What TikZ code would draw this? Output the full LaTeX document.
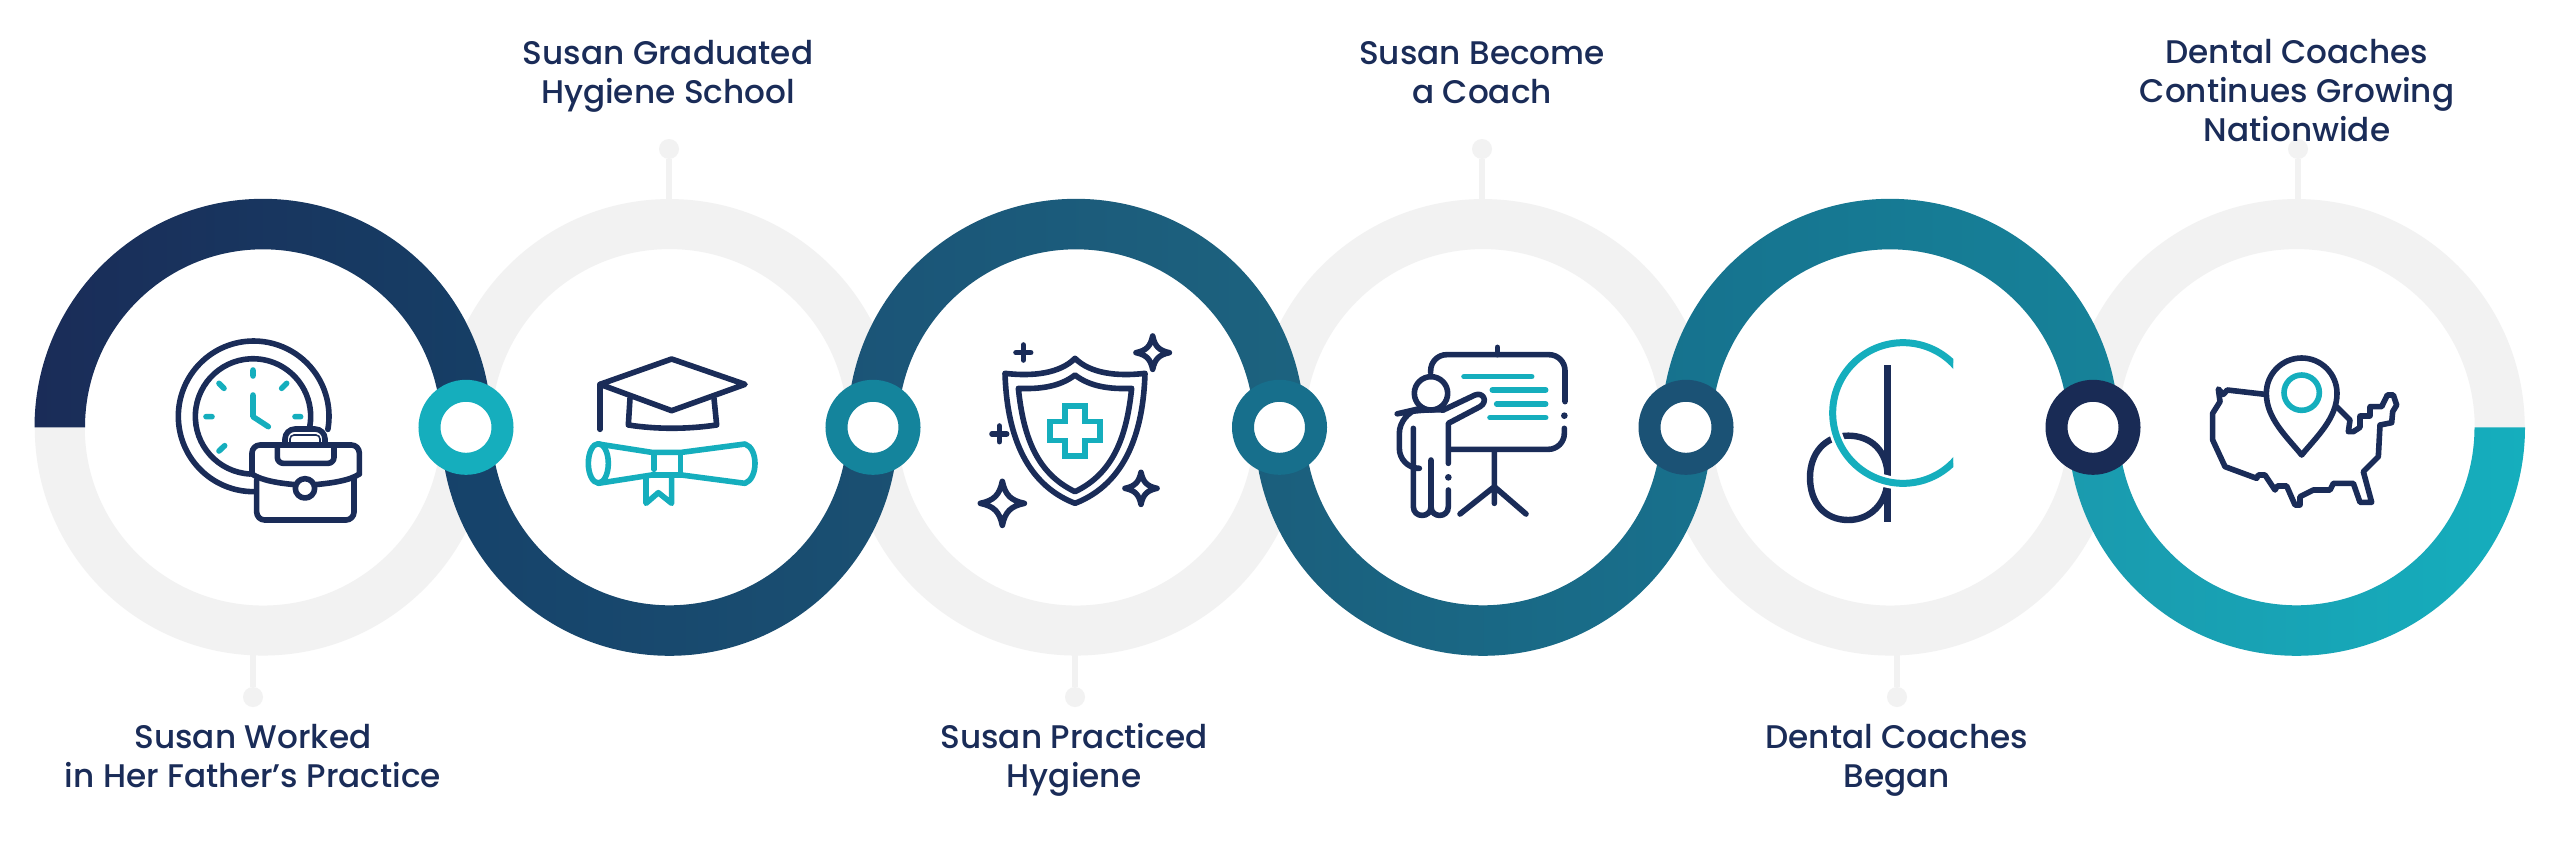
\documentclass[tikz,border=0pt]{standalone}
\usepackage{fontspec}
\setmainfont{Poppins}[UprightFont=* Medium]
\definecolor{navy}{HTML}{1A2C58}
\definecolor{teal}{HTML}{15AEBD}
\definecolor{ringgray}{HTML}{F2F2F2}
\newcommand\ringup[3]{\shade[left color=#2,right color=#3] ({#1-228.5},427.3) arc[start angle=180,end angle=360,radius=228.5] -- ({#1+178},427.3) arc[start angle=360,end angle=180,radius=178] -- cycle;}
\newcommand\ringdown[3]{\shade[left color=#2,right color=#3] ({#1-228.5},427.3) arc[start angle=180,end angle=0,radius=228.5] -- ({#1+178},427.3) arc[start angle=0,end angle=180,radius=178] -- cycle;}
\newcommand\sparkle[3]{\draw[iconline,shift={(#1,#2)},scale=#3] (0,-1) .. controls (.13,-.38) and (.38,-.13) .. (1,0) .. controls (.38,.13) and (.13,.38) .. (0,1) .. controls (-.13,.38) and (-.38,.13) .. (-1,0) .. controls (-.38,-.13) and (-.13,-.38) .. (0,-1) -- cycle;}
\tikzset{
  x=.5pt,y=-.5pt,
  grayring/.style={circle,draw=ringgray,line width=25pt,minimum size=203.25pt,inner sep=0pt,outer sep=0pt},
  joint/.style={circle,line width=11pt,fill=white,minimum size=36.5pt,inner sep=0pt,outer sep=0pt},
  leaderdot/.style={circle,fill=ringgray,minimum size=10pt,inner sep=0pt,outer sep=0pt},
  leader/.style={draw=ringgray,line width=3pt},
  caption/.style={text=navy,align=center,font=\fontsize{16.35}{19.4}\selectfont,inner sep=0pt},
  iconline/.style={draw=navy,line width=2.8pt,line cap=round,line join=round},
  iconteal/.style={draw=teal,line width=2.8pt,line cap=round,line join=round},
  icon/.style={shift={#1},scale=1/3}
}
\begin{document}
\begin{tikzpicture}
\useasboundingbox (0,0) rectangle (2560,841);
\fill[white] (0,0) rectangle (2560,841);
% gray rings
\node[grayring] (c1) at (263,427.3) {};
\node[grayring] (c2) at (669.5,427.3) {};
\node[grayring] (c3) at (1076,427.3) {};
\node[grayring] (c4) at (1483,427.3) {};
\node[grayring] (c5) at (1890,427.3) {};
\node[grayring] (c6) at (2296.5,427.3) {};
% leaders
\node[leaderdot] (d1) at (253,697) {};
\node[leaderdot] (d2) at (669,149) {};
\node[leaderdot] (d3) at (1075,697) {};
\node[leaderdot] (d4) at (1482,149) {};
\node[leaderdot] (d5) at (1897,697) {};
\node[leaderdot] (d6) at (2298,149) {};
\draw[leader] (d1) -- (d1 |- c1.south);
\draw[leader] (d2) -- (d2 |- c2.north);
\draw[leader] (d3) -- (d3 |- c3.south);
\draw[leader] (d4) -- (d4 |- c4.north);
\draw[leader] (d5) -- (d5 |- c5.south);
\draw[leader] (d6) -- (d6 |- c6.north);
% coloured halves
\definecolor{g1}{HTML}{1A2C58}\definecolor{g2}{HTML}{163F66}\definecolor{g3}{HTML}{16426A}\definecolor{g4}{HTML}{1A5072}
\definecolor{g5}{HTML}{1B5477}\definecolor{g6}{HTML}{1C637F}\definecolor{g7}{HTML}{1B5E7C}\definecolor{g8}{HTML}{18718D}
\definecolor{g9}{HTML}{16728E}\definecolor{g10}{HTML}{168299}\definecolor{g11}{HTML}{1A9AAE}
\ringup{263}{g1}{g2}
\ringdown{669.5}{g3}{g4}
\ringup{1076}{g5}{g6}
\ringdown{1483}{g7}{g8}
\ringup{1890}{g9}{g10}
\ringdown{2296.5}{g11}{teal}
% joints
\node[joint,draw={rgb,255:red,21;green,174;blue,189}] (j1) at (466,427.3) {};
\node[joint,draw={rgb,255:red,20;green,132;blue,156}] (j2) at (873,427.3) {};
\node[joint,draw={rgb,255:red,23;green,111;blue,140}] (j3) at (1279.5,427.3) {};
\node[joint,draw={rgb,255:red,27;green,82;blue,117}] (j4) at (1686,427.3) {};
\node[joint,draw={rgb,255:red,25;green,43;blue,85}] (j5) at (2093,427.3) {};
% clock + briefcase
\begin{scope}[icon={(150,320)}]
\draw[iconline] (311,515) arc[start angle=90,end angle=370,radius=226];
\draw[iconline] (300,462) arc[start angle=93,end angle=370,radius=173];
\draw[iconteal] (309,150)--(309,168) (395,205)--(410,190) (207,190)--(222,205) (435,290)--(452,290) (168,290)--(186,290) (207,393)--(224,377);
\draw[iconteal] (309,225)--(309,290)--(355,320);
\draw[iconline,rounded corners=4pt] (306,462)--(306,375)--(628,375)--(628,462);
\draw[iconline] (306,462) .. controls (335,482) and (390,490) .. (436,494);
\draw[iconline] (494,494) .. controls (540,490) and (600,482) .. (628,462);
\draw[iconline,rounded corners=4pt] (320,480)--(320,600)--(612,600)--(612,475);
\draw[iconline] (465,505) circle[radius=29];
\draw[iconline,rounded corners=3pt] (382,378)--(382,430)--(552,430)--(552,378);
\draw[iconline,rounded corners=5pt] (405,375)--(405,327)--(525,327)--(525,375);
\draw[navy,line width=.8pt,rounded corners=2pt] (420,368)--(420,345)--(510,345)--(510,368);
\end{scope}
% cap + diploma
\begin{scope}[icon={(570,340)}]
\draw[iconline] (305,57)--(525,133)--(305,212)--(90,133)--cycle;
\draw[iconline] (90,133)--(90,268);
\draw[iconline] (180,175)--(175,255) .. controls (260,268) and (350,268) .. (440,255)--(432,175);
\draw[iconteal] (85,312)--(245,337)--(335,337)--(525,312) .. controls (565,325) and (565,415) .. (525,430)--(335,405)--(245,405)--(85,430);
\draw[iconteal] (85,370) ellipse[x radius=30,y radius=59];
\draw[iconteal] (252,340)--(252,388) (332,340)--(332,405);
\draw[iconteal] (228,412)--(228,490)--(265,458)--(305,490)--(305,408);
\end{scope}
% shield
\begin{scope}[icon={(960,320)}]
\draw[iconline] (345,115) .. controls (300,160) and (220,170) .. (135,160) .. controls (140,330) and (190,490) .. (345,550) .. controls (500,490) and (550,330) .. (555,160) .. controls (470,170) and (390,160) .. (345,115) -- cycle;
\draw[iconline] (345,165) .. controls (300,200) and (240,208) .. (175,205) .. controls (190,350) and (230,460) .. (345,515) .. controls (460,460) and (500,350) .. (515,205) .. controls (450,208) and (390,200) .. (345,165) -- cycle;
\draw[iconteal,line join=miter,line cap=butt] (315,258)--(375,258)--(375,305)--(420,305)--(420,362)--(375,362)--(375,408)--(315,408)--(315,362)--(270,362)--(270,305)--(315,305)--cycle;
\draw[iconline] (190,75)--(190,120) (168,98)--(212,98);
\draw[iconline] (118,318)--(118,365) (96,342)--(140,342);
\sparkle{127}{550}{66}
\sparkle{578}{98}{50}
\sparkle{543}{505}{48}
\end{scope}
% presenter
\begin{scope}[icon={(1380,330)}]
\draw[iconline,rounded corners=8pt] (152,128)--(152,74)--(555,74)--(555,215);
\draw[iconline,rounded corners=8pt] (553,295)--(553,358)--(207,358);
\draw[iconline] (352,52)--(352,74);
\fill[navy] (553,257) circle[radius=10] (205,442) circle[radius=10];
\draw[iconteal] (252,140)--(455,140) (337,180)--(497,180) (350,222)--(497,222) (330,263)--(497,263);
\draw[iconline] (153,190) circle[radius=50];
\draw[iconline] (190,240)--(285,195) .. controls (310,185) and (325,215) .. (300,230)--(205,280)--(205,400);
\draw[iconline] (205,480)--(205,530) .. controls (205,565) and (153,565) .. (153,530)--(153,390);
\draw[iconline] (153,530) .. controls (153,565) and (100,565) .. (100,530)--(100,295);
\draw[iconline,rounded corners=10pt] (100,415)--(58,415)--(58,250)--(110,238)--(190,240);
\draw[iconline] (343,360)--(343,520) (240,552)--(343,470)--(438,552);
\end{scope}
% dc logo
\begin{scope}[icon={(1780,320)}]
\draw[draw=navy,line width=3.2pt] (323,135)--(323,605);
\draw[draw=navy,line width=3.2pt] (323,472) .. controls (323,390) and (270,347) .. (205,347) .. controls (135,347) and (90,400) .. (90,472) .. controls (90,550) and (135,600) .. (205,600) .. controls (270,600) and (323,550) .. (323,472);
\begin{scope}
\clip (100,0) rectangle (520,600);
\draw[white,line width=6.2pt] (369,279) circle[radius=211];
\draw[teal,line width=3.5pt] (369,279) circle[radius=211];
\fill[white] (520,130) rectangle (620,430);
\end{scope}
\fill[white] (520.5,140) rectangle (600,425);
\end{scope}
% map + pin
\begin{scope}[icon={(2190,340)}]
\draw[iconline] (225,163)--(112,150)--(100,163)--(85,147)--(90,185)--(68,220)--(68,300)--(105,380)--(200,415)--(205,405)--(225,405)--(255,450)--(262,438)--(290,438)--(315,495)--(330,495)--(330,470)--(370,450)--(420,450)--(430,430)--(490,430)--(510,487)--(545,487)--(520,395)--(565,350)--(570,255)--(605,248)--(608,215)--(620,195)--(610,165)--(592,165)--(575,200)--(540,200)--(540,228)--(510,228)--(510,262)--(490,275)--(475,275)--(480,240)--(440,200);
\draw[iconline,fill=white] (335,345) .. controls (290,290) and (229,235) .. (229,160) arc[start angle=180,end angle=360,radius=106] .. controls (441,235) and (380,290) .. (335,345) -- cycle;
\draw[iconteal] (335,158) circle[radius=53];
\end{scope}
% captions
\node[caption] (t1) at (253,760.5) {\strut Susan Worked\\in Her Father’s Practice\strut};
\node[caption] (t2) at (668,76) {\strut Susan Graduated\\Hygiene School\strut};
\node[caption] (t3) at (1074,760.5) {\strut Susan Practiced\\Hygiene\strut};
\node[caption] (t4) at (1482,76) {\strut Susan Become\\a Coach\strut};
\node[caption] (t5) at (1897,760.5) {\strut Dental Coaches\\Began\strut};
\node[caption] (t6) at (2297,95) {\strut Dental Coaches\\Continues Growing\\Nationwide\strut};
\end{tikzpicture}
\end{document}
